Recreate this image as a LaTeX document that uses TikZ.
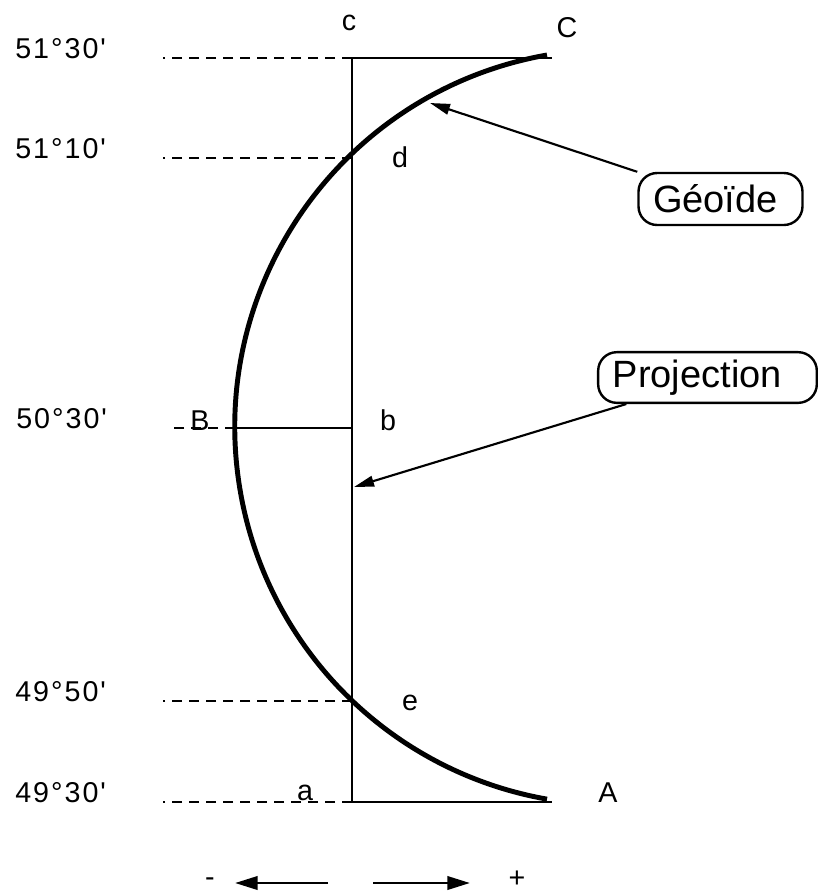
\documentclass[tikz,border=0pt]{standalone}
\usepackage{fontspec}
\setmainfont{Liberation Sans}
\newfontfamily\degfont{Liberation Sans}[LetterSpace=7]
\usetikzlibrary{arrows.meta}

\begin{document}
\begin{tikzpicture}[x=0.75pt, y=0.75pt,
  lbl/.style={inner sep=0pt, anchor=base, font=\fontsize{21.5}{24}\selectfont},
  deg/.style={inner sep=0pt, anchor=base west, font=\fontsize{21.5}{24}\selectfont\degfont},
  tag/.style={draw, line width=1.8pt, rounded corners=14pt, inner xsep=11pt, align=left, font=\fontsize{28.5}{32}\selectfont},
  thin/.style={line width=1.8pt},
  lat/.style={line width=1.8pt, dash pattern=on 7.5pt off 5.25pt},
  ptr/.style={line width=1.6pt, -{Triangle[length=15pt, width=8pt]}},
  dir/.style={line width=2.1pt, -{Triangle[length=17pt, width=10pt]}}]
\useasboundingbox (0,0) rectangle (818,-894);
% projection line and its ends
\coordinate (c) at (352,-58);
\coordinate (a) at (352,-802);
\coordinate (b) at (352,-428);
\coordinate (cend) at (552,-58);
\coordinate (aend) at (552,-802);
\coordinate (C) at (547,-55);
\coordinate (Bp) at (235,-428);
\draw[thin] (c) -- (a);
\draw[thin] (c) -- (cend);
\draw[thin] (a) -- (aend);
\draw[thin] (Bp) -- (b);
\draw[lat] (Bp) -- (170,-428);
% geoid
\draw[line width=3.7pt] (C) arc[start angle=100, end angle=260, radius=283.35pt];
% latitudes
\foreach \y/\t in {58/51°30', 158/51°10', 701/49°50', 802/49°30'}{
  \draw[lat] (352,-\y) -- (163,-\y);
  \node[deg] (lat\y) at (15,-\y) {\t};
}
\node[deg] (lat428) at (16,-428) {50°30'};
% letters
\node[lbl] (lc) at (349,-30) {c};
\node[lbl] (lC) at (567,-37) {C};
\node[lbl] (ld) at (400,-167) {d};
\node[lbl] (lb) at (388,-430) {b};
\node[lbl] (lB) at (200,-430) {B};
\node[lbl] (le) at (410,-710) {e};
\node[lbl] (la) at (305,-800) {a};
\node[lbl] (lA) at (608,-802) {A};
% labels
\node[tag, text width=101pt, minimum height=39pt] (geo) at (720.5,-199) {Géoïde};
\node[tag, text width=142pt, minimum height=38pt] (proj) at (707.5,-377.5) {Projection};
\coordinate (geotip) at (430,-103);
\coordinate (projtip) at (354,-487);
\draw[ptr] (geo.north west) -- (geotip);
\draw[ptr] ([xshift=22pt]proj.south west) -- (projtip);
% sign of the deviation
\node[inner sep=0pt, font=\fontsize{21.5}{24}\selectfont] (minus) at (210,-882) {-};
\node[inner sep=0pt, font=\fontsize{21.5}{24}\selectfont] (plus) at (517,-879) {+};
\coordinate (ltail) at (328,-883);
\coordinate (ltip) at (235,-883);
\coordinate (rtail) at (373,-883);
\coordinate (rtip) at (470,-883);
\draw[dir] (ltail) -- (ltip);
\draw[dir] (rtail) -- (rtip);
\end{tikzpicture}
\end{document}
